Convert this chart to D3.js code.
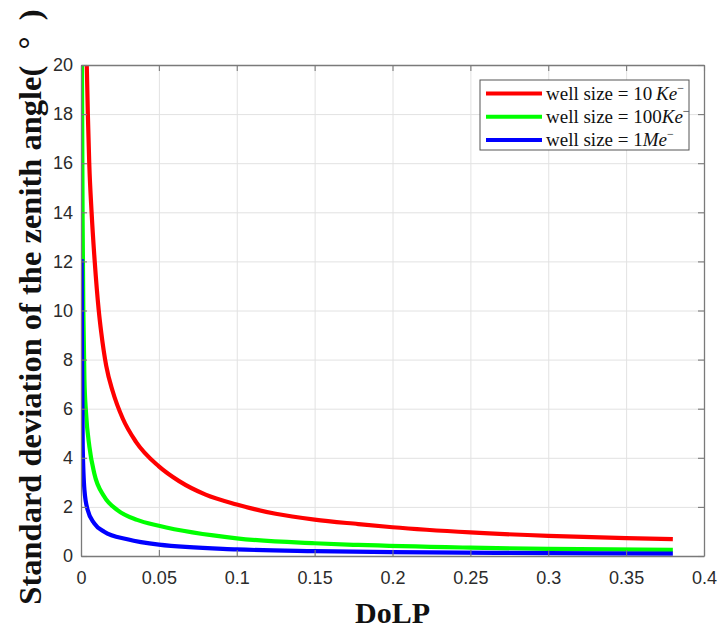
<!DOCTYPE html>
<html>
<head>
<meta charset="utf-8">
<script src="https://cdn.jsdelivr.net/npm/d3@7"></script>
<style>
  html, body { margin: 0; padding: 0; background: #fff; }
  svg { display: block; }
  .tick text { font-family: "Liberation Sans", Arial, sans-serif; font-size: 18px; fill: #2b2b2b; }
</style>
</head>
<body>
<svg id="chart" width="718" height="630"></svg>
<script>
// values (DoLP, std of zenith angle in degrees)
const redDolp   = [0.0037, 0.0044, 0.0053, 0.0068, 0.0088, 0.0114, 0.013, 0.0162, 0.0204, 0.0268, 0.0353, 0.05, 0.063, 0.08, 0.1, 0.125, 0.15, 0.178, 0.2, 0.25, 0.3, 0.35, 0.38];
const redStd    = [20, 18, 16, 14, 12, 10, 9.1, 7.74, 6.7, 5.6, 4.65, 3.65, 3.05, 2.5, 2.1, 1.72, 1.48, 1.3, 1.17, 0.96, 0.82, 0.73, 0.69];
const greenDolp = [0.0006, 0.001, 0.0015, 0.0022, 0.0032, 0.0054, 0.0085, 0.0149, 0.0234, 0.036, 0.05, 0.1, 0.15, 0.178, 0.25, 0.3, 0.38];
const greenStd  = [20, 14, 10, 7.2, 5.86, 4.45, 3.37, 2.42, 1.87, 1.47, 1.23, 0.72, 0.52, 0.45, 0.34, 0.29, 0.25];
const blueDolp  = [0.0004, 0.0007, 0.0011, 0.0022, 0.0043, 0.0085, 0.0149, 0.0298, 0.05, 0.1, 0.15, 0.2, 0.3, 0.38];
const blueStd   = [12.1, 8, 4.5, 2.69, 1.87, 1.33, 0.99, 0.68, 0.46, 0.27, 0.2, 0.16, 0.12, 0.1];

const xTicks = [0, 0.05, 0.1, 0.15, 0.2, 0.25, 0.3, 0.35, 0.4];
const yTicks = [0, 2, 4, 6, 8, 10, 12, 14, 16, 18, 20];

const seriesNames = ['10', '100', '1'];
const seriesUnits = ['Ke', 'Ke', 'Me'];
const seriesColors = ['#ff0000', '#00ff00', '#0000ff'];

const svg = d3.select('#chart');
const plotLeft = 81, plotRight = 704, plotTop = 65, plotBottom = 556;
const plotW = plotRight - plotLeft, plotH = plotBottom - plotTop;

const x = d3.scaleLinear().domain([0, 0.4]).range([plotLeft, plotRight]);
const y = d3.scaleLinear().domain([0, 20]).range([plotBottom, plotTop]);

// grid
svg.append('g')
  .attr('transform', `translate(0,${plotBottom})`)
  .call(d3.axisBottom(x).tickValues(xTicks).tickSize(-plotH).tickFormat(''))
  .call((g) => g.select('.domain').remove())
  .call((g) => g.selectAll('line').attr('stroke', '#e2e2e2').attr('stroke-width', 1));
svg.append('g')
  .attr('transform', `translate(${plotLeft},0)`)
  .call(d3.axisLeft(y).tickValues(yTicks).tickSize(-plotW).tickFormat(''))
  .call((g) => g.select('.domain').remove())
  .call((g) => g.selectAll('line').attr('stroke', '#e2e2e2').attr('stroke-width', 1));

// curves
const curve = d3.line()
  .x((d) => x(d[0]))
  .y((d) => y(d[1]))
  .curve(d3.curveMonotoneX);

svg.append('clipPath').attr('id', 'plot-clip')
  .append('rect').attr('x', plotLeft).attr('y', plotTop).attr('width', plotW).attr('height', plotH);

const series = [
  d3.zip(redDolp, redStd),
  d3.zip(greenDolp, greenStd),
  d3.zip(blueDolp, blueStd),
];

svg.append('g')
  .attr('clip-path', 'url(#plot-clip)')
  .selectAll('path')
  .data(series)
  .join('path')
  .attr('d', curve)
  .attr('fill', 'none')
  .attr('stroke', (d, i) => seriesColors[i])
  .attr('stroke-width', 4.2)
  .attr('stroke-linejoin', 'round');

// axes, ticks pointing inward, box on all sides
const axisColor = '#7a7a7a';
function styleAxis(g) {
  g.select('.domain').attr('stroke', axisColor).attr('stroke-width', 1.3);
  g.selectAll('.tick line').attr('stroke', axisColor).attr('stroke-width', 1.1);
}

svg.append('g')
  .attr('transform', `translate(0,${plotBottom})`)
  .call(d3.axisBottom(x).tickValues(xTicks).tickSizeInner(-6).tickSizeOuter(0).tickPadding(15).tickFormat(d3.format('')))
  .call(styleAxis);
svg.append('g')
  .attr('transform', `translate(0,${plotTop})`)
  .call(d3.axisTop(x).tickValues(xTicks).tickSizeInner(-6).tickSizeOuter(0).tickFormat(''))
  .call(styleAxis);
svg.append('g')
  .attr('transform', `translate(${plotLeft},0)`)
  .call(d3.axisLeft(y).tickValues(yTicks).tickSizeInner(-6).tickSizeOuter(0).tickPadding(8))
  .call(styleAxis);
svg.append('g')
  .attr('transform', `translate(${plotRight},0)`)
  .call(d3.axisRight(y).tickValues(yTicks).tickSizeInner(-6).tickSizeOuter(0).tickFormat(''))
  .call(styleAxis);

svg.selectAll('.tick text').attr('font-family', null).attr('font-size', null);

// axis titles
svg.append('text')
  .attr('x', (plotLeft + plotRight) / 2)
  .attr('y', 623)
  .attr('text-anchor', 'middle')
  .attr('font-family', '"Liberation Serif", "Times New Roman", serif')
  .attr('font-weight', 'bold')
  .attr('font-size', 30)
  .attr('fill', '#111')
  .text('DoLP');

svg.append('text')
  .attr('transform', `translate(41,307) rotate(-90)`)
  .attr('text-anchor', 'middle')
  .attr('font-family', '"Liberation Serif", "Times New Roman", serif')
  .attr('font-weight', 'bold')
  .attr('font-size', 32.5)
  .attr('fill', '#111')
  .text('Standard deviation of the zenith angle(\u2002\u00b0\u2002)');

// legend
const legend = svg.append('g').attr('transform', 'translate(480,80)');
legend.append('rect')
  .attr('width', 209).attr('height', 70)
  .attr('fill', '#fff')
  .attr('stroke', '#555')
  .attr('stroke-width', 1);

const rows = legend.selectAll('g.row')
  .data(seriesNames)
  .join('g')
  .attr('class', 'row')
  .attr('transform', (d, i) => `translate(0,${13.5 + i * 23.3})`);

rows.append('line')
  .attr('x1', 6).attr('x2', 62)
  .attr('stroke', (d, i) => seriesColors[i])
  .attr('stroke-width', 4);

const labels = rows.append('text')
  .attr('x', 66)
  .attr('y', 6)
  .attr('font-family', '"Liberation Serif", "Times New Roman", serif')
  .attr('font-size', 19)
  .attr('fill', '#111');
labels.append('tspan').text((d) => `well size = ${d}${d === '10' ? '\u2009' : ''}`);
labels.append('tspan').attr('font-style', 'italic').text((d, i) => seriesUnits[i]);
labels.append('tspan').attr('font-size', 12).attr('dy', -8).text('\u2212');
</script>
</body>
</html>
